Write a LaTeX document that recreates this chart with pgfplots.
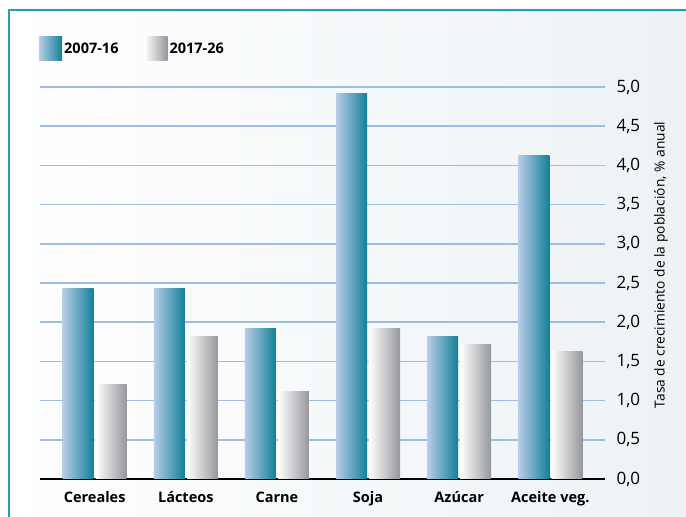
\documentclass[border=0pt]{standalone}
\usepackage{pgfplots}
\pgfplotsset{compat=1.18}
\usepackage{fontspec}
\setmainfont{Open Sans}
\definecolor{gridc}{RGB}{157,189,227}
\definecolor{bluel}{RGB}{184,204,232}
\definecolor{blued}{RGB}{18,128,153}
\definecolor{grayl}{RGB}{255,255,255}
\definecolor{grayd}{RGB}{150,151,155}
\definecolor{framec}{RGB}{43,156,179}
\definecolor{bgr}{RGB}{236,242,245}
\pgfplotsset{
  bluebar/.style={draw=none, left color=bluel, right color=blued, bar shift=-16.5pt},
  graybar/.style={draw=none, left color=grayl, right color=grayd, bar shift=16.5pt},
}
\begin{document}
\begin{tikzpicture}[x=1pt,y=1pt]
\useasboundingbox (0,0) rectangle (686,517);
\shade[left color=white, right color=bgr] (9,0) rectangle (686,507);
\draw[framec, line width=2pt] (9,0) -- (9,507) -- (686,507);
\begin{axis}[
  at={(40pt,38pt)}, anchor=south west, scale only axis,
  width=565pt, height=392pt,
  ybar=2pt, bar width=31pt,
  xmin=-0.6, xmax=5.6, ymin=0, ymax=5,
  xtick={0,...,5},
  xticklabels={Cereales,Lácteos,Carne,Soja,Azúcar,Aceite veg.},
  ytick={0,0.5,...,5},
  axis x line*=bottom, axis y line*=right,
  x axis line style={black, line width=2pt, -},
  y axis line style={draw=none},
  major tick length=0pt,
  ymajorgrids, grid style={gridc, line width=1.5pt},
  yticklabel style={font=\fontsize{17}{17}\selectfont, xshift=8pt, /pgf/number format/.cd, fixed, fixed zerofill, precision=1, use comma, assume math mode=true},
  xticklabel style={font=\bfseries\fontsize{14.5}{15}\selectfont, yshift=-9pt},
  ylabel={Tasa de crecimiento de la población, \% anual},
  every axis y label/.style={at={(rel axis cs:1,0.546)}, xshift=56pt, rotate=90, anchor=center, font=\fontsize{13.8}{14}\selectfont},
  legend image code/.code={\path[#1] (0pt,-12pt) rectangle (23pt,12pt);},
  legend columns=2,
  legend style={at={(rel axis cs:0,1)}, anchor=south west, xshift=-4pt, yshift=24pt,
    draw=none, fill=none, font=\bfseries\fontsize{14.5}{15}\selectfont,
    /tikz/every even column/.append style={column sep=24pt}},
]
% 2007-16
\addplot[bluebar] coordinates {(0,2.43)};
\addplot[graybar] coordinates {(0,1.21)};
\legend{2007-16,2017-26}
\addplot[bluebar, forget plot] coordinates {(1,2.43)};
\addplot[bluebar, forget plot] coordinates {(2,1.92)};
\addplot[bluebar, forget plot] coordinates {(3,4.92)};
\addplot[bluebar, forget plot] coordinates {(4,1.82)};
\addplot[bluebar, forget plot] coordinates {(5,4.12)};
% 2017-26
\addplot[graybar, forget plot] coordinates {(1,1.82)};
\addplot[graybar, forget plot] coordinates {(2,1.11)};
\addplot[graybar, forget plot] coordinates {(3,1.92)};
\addplot[graybar, forget plot] coordinates {(4,1.71)};
\addplot[graybar, forget plot] coordinates {(5,1.62)};
\end{axis}
\end{tikzpicture}
\end{document}
